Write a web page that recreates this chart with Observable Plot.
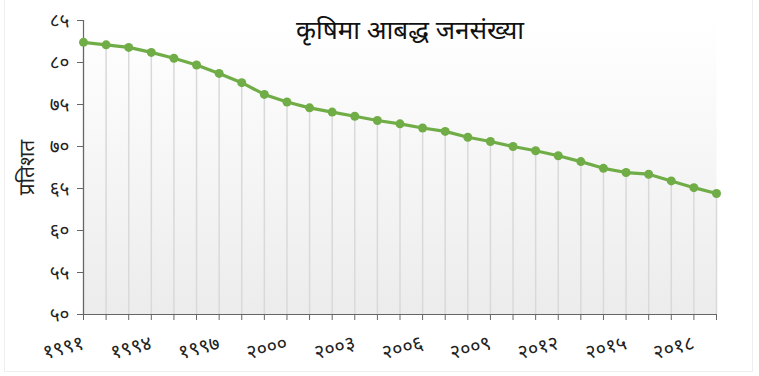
<!DOCTYPE html>
<html>
<head>
<meta charset="utf-8">
<script src="https://cdn.jsdelivr.net/npm/d3@7"></script>
<script src="https://cdn.jsdelivr.net/npm/@observablehq/plot@0.6"></script>
<style>
  html, body { margin: 0; padding: 0; background: #fff; }
  #wrap { position: relative; width: 759px; height: 376px; }
  #border { position: absolute; left: 4px; top: -2px; width: 749px; height: 374px; border: 1px solid #eeeeee; box-sizing: border-box; }
  #chart { position: absolute; left: 0; top: 0; }
</style>
</head>
<body>
<div id="wrap"><div id="border"></div><div id="chart"></div></div>
<script>
const title = "कृषिमा आबद्ध जनसंख्या";
const yLabel = "प्रतिशत";
const years = [1991,1992,1993,1994,1995,1996,1997,1998,1999,2000,2001,2002,2003,2004,2005,2006,2007,2008,2009,2010,2011,2012,2013,2014,2015,2016,2017,2018,2019];
const values = [82.4,82.1,81.8,81.2,80.5,79.7,78.7,77.6,76.2,75.3,74.6,74.1,73.6,73.1,72.7,72.2,71.8,71.1,70.6,70.0,69.5,68.9,68.2,67.4,66.9,66.7,65.9,65.1,64.4];
const yTicks = [50,55,60,65,70,75,80,85];
const xLabelYears = [1991,1994,1997,2000,2003,2006,2009,2012,2015,2018];

const devDigits = "०१२३४५६७८९";
const dev = n => String(n).replace(/[0-9]/g, d => devDigits[+d]);

const data = years.map((y, i) => ({year: y, value: values[i]}));
const font = "'Noto Sans', 'DejaVu Sans', sans-serif";

const plot = Plot.plot({
  width: 759,
  height: 376,
  marginLeft: 83,
  marginRight: 43,
  marginTop: 20,
  marginBottom: 62,
  style: {fontFamily: font, background: "transparent", overflow: "visible"},
  x: {domain: [1991, 2019]},
  y: {domain: [50, 85]},
  marks: [
    Plot.frame({fill: "url(#bgGrad)", stroke: null}),
    Plot.ruleX(data, {x: "year", y1: 50, y2: "value", stroke: "#d9d9d9", strokeWidth: 1.5}),
    Plot.axisY({ticks: yTicks, tickFormat: dev, tickSize: 6, tickPadding: 8, fontSize: 19, letterSpacing: 1.5, label: null, stroke: "#666", color: "#222"}),
    Plot.axisX({ticks: years, tickFormat: d => xLabelYears.includes(d) ? dev(d) : "", tickSize: 6, tickPadding: 22, tickRotate: -15, fontSize: 20, letterSpacing: 2, label: null, stroke: "#666", color: "#222"}),
    Plot.ruleX([1991], {y1: 50, y2: 85, stroke: "#666", strokeWidth: 1.2}),
    Plot.ruleY([50], {stroke: "#666", strokeWidth: 1.2}),
    Plot.line(data, {x: "year", y: "value", stroke: "#70ad47", strokeWidth: 3.2}),
    Plot.dot(data, {x: "year", y: "value", fill: "#70ad47", r: 4.5}),
    Plot.text([title], {frameAnchor: "top", dx: 10, dy: 0, fontSize: 26, fill: "#111", fontFamily: font}),
    Plot.text([yLabel], {frameAnchor: "left", textAnchor: "middle", dx: -56, dy: 0, rotate: -90, fontSize: 21, fill: "#222", fontFamily: font})
  ]
});

const ns = "http://www.w3.org/2000/svg";
const defs = document.createElementNS(ns, "defs");
const grad = document.createElementNS(ns, "linearGradient");
grad.setAttribute("id", "bgGrad");
grad.setAttribute("x1", "0"); grad.setAttribute("y1", "0");
grad.setAttribute("x2", "0"); grad.setAttribute("y2", "1");
[["0%", "#ffffff"], ["100%", "#ececec"]].forEach(([o, c]) => {
  const s = document.createElementNS(ns, "stop");
  s.setAttribute("offset", o); s.setAttribute("stop-color", c);
  grad.appendChild(s);
});
defs.appendChild(grad);
plot.insertBefore(defs, plot.firstChild);
document.getElementById("chart").appendChild(plot);
</script>
</body>
</html>
